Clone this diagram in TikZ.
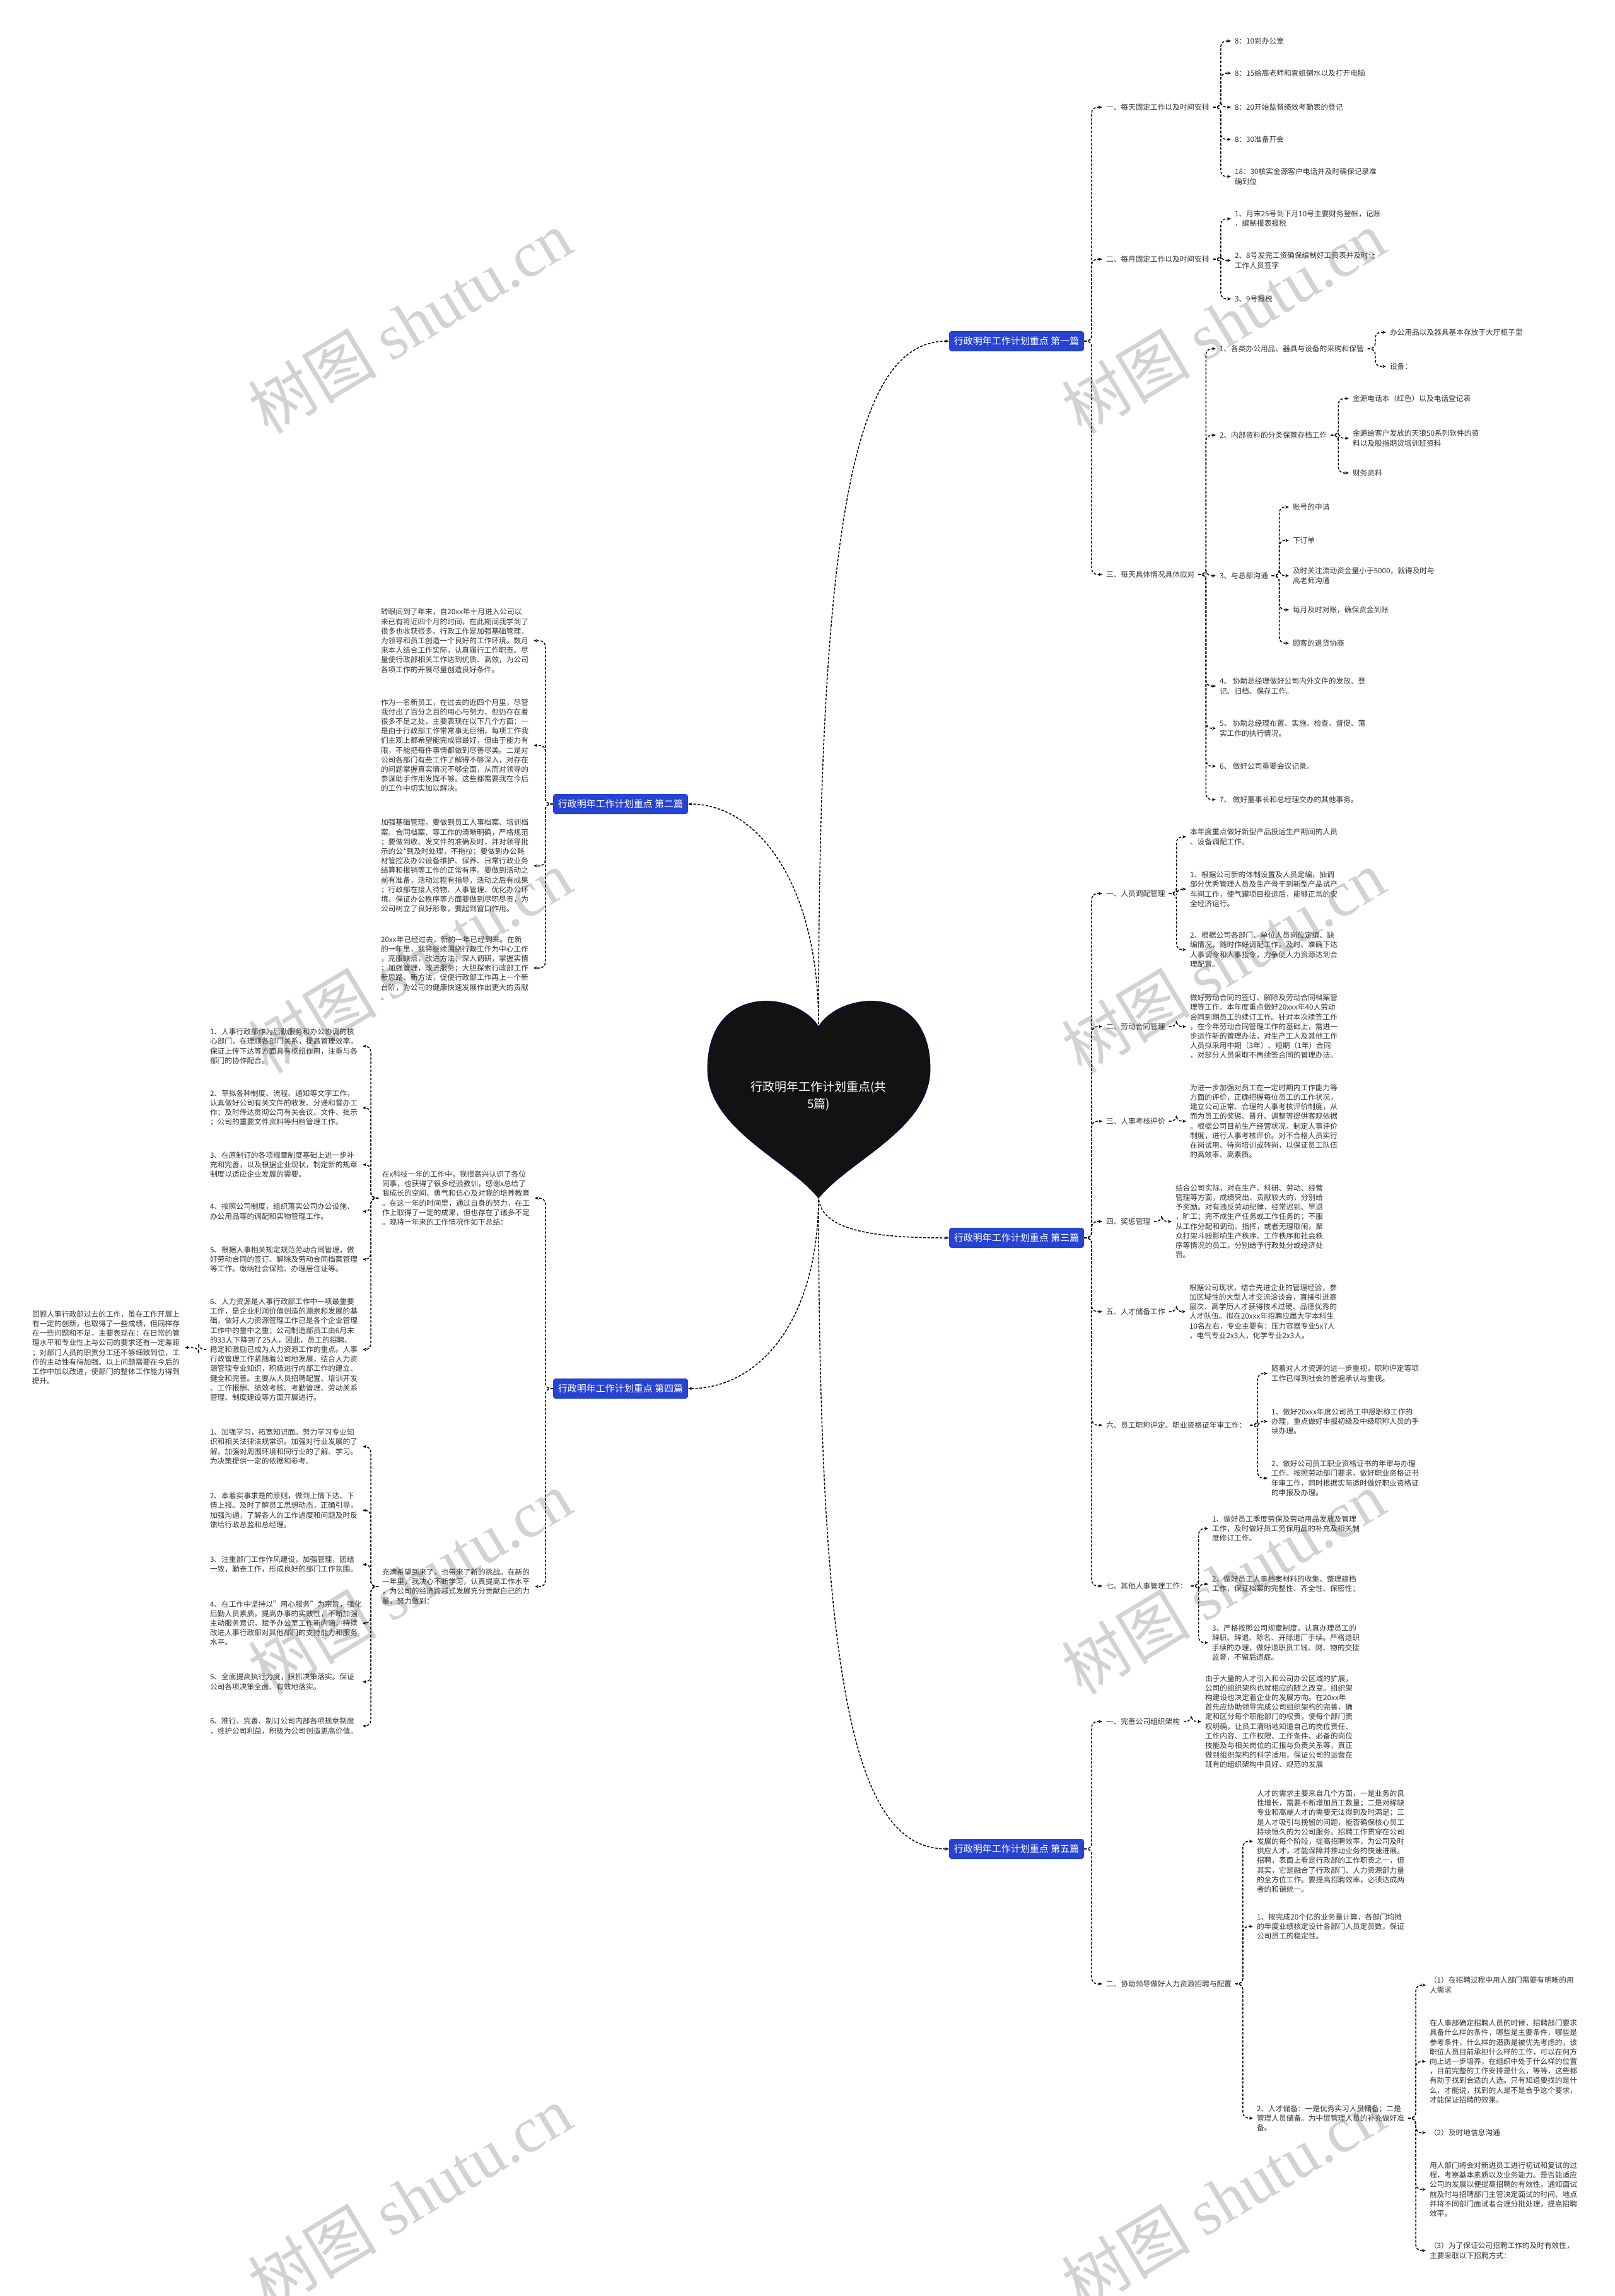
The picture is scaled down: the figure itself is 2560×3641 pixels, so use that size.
\documentclass[tikz,border=0pt]{standalone}
\usepackage{fontspec}
\setmainfont{Noto Sans CJK SC}
\newfontfamily\wmlatin{Liberation Serif}
\usetikzlibrary{arrows.meta,positioning}
\definecolor{topicblue}{HTML}{2743D3}
\definecolor{inkgray}{HTML}{333333}
\definecolor{wmgray}{HTML}{D2D2D2}

\begin{document}
\begin{tikzpicture}[x=1pt, y=-1pt,
    topic/.style={fill=topicblue, rounded corners=4pt, text=white,
        font=\fontsize{15}{18}\selectfont, minimum width=214pt, minimum height=32pt, inner sep=0pt},
    item/.style={anchor=west, align=left, inner sep=0pt, outer xsep=6pt, text=inkgray,
        font=\fontsize{11.7}{15.2}\selectfont},
    para/.style={item, text width=236pt},
    hubtext/.style={align=center, text=white, font=\fontsize{19}{27}\selectfont},
    watermark/.style={rotate=31, text=wmgray, font=\fontsize{102}{102}\selectfont},
    link/.style={line width=1.5pt, dash pattern=on 4pt off 2.5pt, rounded corners=9pt,
        -{Stealth[length=6pt,width=5pt]}}
]
\useasboundingbox (0,0) rectangle (2560,3641);
\fill[white] (0,0) rectangle (2560,3641);

% watermarks
\foreach \wx/\wy [count=\k] in {650/511, 1940/511, 650/1525, 1940/1525, 650/2510, 1940/2510, 650/3485, 1940/3485}
    \node[watermark] (wm\k) at (\wx,\wy) {树图 {\wmlatin shutu.cn}};

% centre heart
\fill[black!93, draw=blue!45!black, line width=0.8pt] (1298,1628)
    .. controls (1262,1570) and (1122,1560) .. (1122,1695)
    .. controls (1122,1790) and (1250,1840) .. (1298,1900)
    .. controls (1346,1840) and (1475,1790) .. (1475,1695)
    .. controls (1475,1560) and (1334,1570) .. (1298,1628) -- cycle;
\node[hubtext] (hub) at (1298,1738) {行政明年工作计划重点(共\\5篇)};
\coordinate (hubtop) at (1298,1624);
\coordinate (hubbot) at (1298,1896);

% topics
\node[topic] (b1) at (1612,541)  {行政明年工作计划重点 第一篇};
\node[topic] (b2) at (984,1275)  {行政明年工作计划重点 第二篇};
\node[topic] (b3) at (1612,1963) {行政明年工作计划重点 第三篇};
\node[topic] (b4) at (984,2202)  {行政明年工作计划重点 第四篇};
\node[topic] (b5) at (1612,2932) {行政明年工作计划重点 第五篇};

\draw[link] (hubtop) .. controls (1298,800) and (1360,541) .. (b1.west);
\draw[link] (hubtop) .. controls (1298,1400) and (1200,1275) .. (b2.east);
\draw[link] (hubbot) .. controls (1298,1950) and (1380,1963) .. (b3.west);
\draw[link] (hubbot) .. controls (1298,2100) and (1200,2202) .. (b4.east);
\draw[link] (hubbot) .. controls (1298,2700) and (1360,2932) .. (b5.west);

% first
\node[item] (a1) at (1748,170) {一、每天固定工作以及时间安排};
\node[item] (a2) at (1748,411) {二、每月固定工作以及时间安排};
\node[item] (a3) at (1748,911) {三、每天具体情况具体应对};
\node[item] (a11) at (1952,65)  {8：10到办公室};
\node[item] (a12) at (1952,116) {8：15给高老师和袁姐倒水以及打开电脑};
\node[item] (a13) at (1952,170) {8：20开始监督绩效考勤表的登记};
\node[item] (a14) at (1952,221) {8：30准备开会};
\node[item] (a15) at (1952,280) {18：30核实金源客户电话并及时确保记录准\\确到位};
\node[item] (a21) at (1952,347) {1、月末25号到下月10号主要财务登帐，记账\\，编制报表报税};
\node[item] (a22) at (1952,413) {2、8号发完工资确保编制好工资表并及时让\\工作人员签字};
\node[item] (a23) at (1952,474) {3、9号报税};
\node[item] (a31) at (1928,553)  {1、各类办公用品、器具与设备的采购和保管};
\node[item] (a32) at (1928,690)  {2、内部资料的分类保管存档工作};
\node[item] (a33) at (1928,913)  {3、与总部沟通};
\node[item] (a34) at (1928,1088) {4、 协助总经理做好公司内外文件的发放、登\\记、归档、保存工作。};
\node[item] (a35) at (1928,1155) {5、 协助总经理布置、实施、检查、督促、落\\实工作的执行情况。};
\node[item] (a36) at (1928,1215) {6、 做好公司重要会议记录。};
\node[item] (a37) at (1928,1268) {7、 做好董事长和总经理交办的其他事务。};
\node[item] (a311) at (2198,527) {办公用品以及器具基本存放于大厅柜子里};
\node[item] (a312) at (2198,581) {设备：};
\node[item] (a321) at (2139,632) {金源电话本（红色）以及电话登记表};
\node[item] (a322) at (2139,695) {金源给客户发放的天狼50系列软件的资\\料以及股指期货培训班资料};
\node[item] (a323) at (2139,750) {财务资料};
\node[item] (a331) at (2044,804)  {账号的申请};
\node[item] (a332) at (2044,857)  {下订单};
\node[item] (a333) at (2044,913)  {及时关注流动资金量小于5000，就得及时与\\高老师沟通};
\node[item] (a334) at (2044,967)  {每月及时对账，确保资金到账};
\node[item] (a335) at (2044,1020) {顾客的退货协商};

% second
\node[para] (p1) at (598,1016) {转眼间到了年末，自20xx年十月进入公司以\\来已有将近四个月的时间，在此期间我学到了\\很多也收获很多。行政工作是加强基础管理，\\为领导和员工创造一个良好的工作环境。数月\\来本人结合工作实际，认真履行工作职责。尽\\量使行政部相关工作达到优质、高效，为公司\\各项工作的开展尽量创造良好条件。};
\node[para] (p2) at (598,1182) {作为一名新员工，在过去的近四个月里，尽管\\我付出了百分之百的用心与努力，但仍存在着\\很多不足之处，主要表现在以下几个方面：一\\是由于行政部工作常常事无巨细，每项工作我\\们主观上都希望能完成得最好，但由于能力有\\限，不能把每件事情都做到尽善尽美。二是对\\公司各部门有些工作了解得不够深入，对存在\\的问题掌握真实情况不够全面，从而对领导的\\参谋助手作用发挥不够。这些都需要我在今后\\的工作中切实加以解决。};
\node[para] (p3) at (598,1373) {加强基础管理，要做到员工人事档案、培训档\\案、合同档案、等工作的清晰明确，严格规范\\；要做到收、发文件的准确及时，并对领导批\\示的公*到及时处理，不拖拉；要做到办公耗\\材管控及办公设备维护、保养、日常行政业务\\结算和报销等工作的正常有序。要做到活动之\\前有准备，活动过程有指导，活动之后有成果\\；行政部在接人待物、人事管理、优化办公环\\境、保证办公秩序等方面要做到尽职尽责，为\\公司树立了良好形象，要起到窗口作用。};
\node[para] (p4) at (598,1535) {20xx年已经过去，新的一年已经到来。在新\\的一年里，我将继续围绕行政工作为中心工作\\，克服缺点，改进方法；深入调研，掌握实情\\；加强管理，改进服务；大胆探索行政部工作\\新思路、新方法，促使行政部工作再上一个新\\台阶，为公司的健康快速发展作出更大的贡献\\。};

% third
\node[item] (c1) at (1748,1417) {一、人员调配管理};
\node[item] (c2) at (1748,1628) {二、劳动合同管理};
\node[item] (c3) at (1748,1778) {三、人事考核评价};
\node[item] (c4) at (1748,1937) {四、奖惩管理};
\node[item] (c5) at (1748,2080) {五、人才储备工作};
\node[item] (c6) at (1748,2260) {六、员工职称评定、职业资格证年审工作：};
\node[item] (c7) at (1748,2515) {七、其他人事管理工作：};
\node[item] (c11) at (1881,1327) {本年度重点做好新型产品投运生产期间的人员\\、设备调配工作。};
\node[item] (c12) at (1881,1410) {1、根据公司新的体制设置及人员定编，抽调\\部分优秀管理人员及生产骨干到新型产品试产\\车间工作，使气罐项目投运后，能够正常的安\\全经济运行。};
\node[item] (c13) at (1881,1506) {2、根据公司各部门、单位人员岗位定编、缺\\编情况，随时作好调配工作。及时、准确下达\\人事调令和人事指令，力争使人力资源达到合\\理配置。};
\node[item] (c21) at (1881,1628) {做好劳动合同的签订、解除及劳动合同档案管\\理等工作。本年度重点做好20xxx年40人劳动\\合同到期员工的续订工作。针对本次续签工作\\，在今年劳动合同管理工作的基础上，需进一\\步运作新的管理办法，对生产工人及其他工作\\人员拟采用中期（3年）、短期（1年）合同\\，对部分人员采取不再续签合同的管理办法。};
\node[item] (c31) at (1881,1778) {为进一步加强对员工在一定时期内工作能力等\\方面的评价，正确把握每位员工的工作状况，\\建立公司正常、合理的人事考核评价制度，从\\而为员工的奖惩、晋升、调整等提供客观依据\\。根据公司目前生产经营状况，制定人事评价\\制度，进行人事考核评价。对不合格人员实行\\在岗试用、待岗培训或转岗，以保证员工队伍\\的高效率、高素质。};
\node[item] (c41) at (1858,1937) {结合公司实际，对在生产、科研、劳动、经营\\管理等方面，成绩突出、贡献较大的，分别给\\予奖励。对有违反劳动纪律，经常迟到、早退\\，旷工；完不成生产任务或工作任务的；不服\\从工作分配和调动、指挥，或者无理取闹，聚\\众打架斗殴影响生产秩序、工作秩序和社会秩\\序等情况的员工，分别给予行政处分或经济处\\罚。};
\node[item] (c51) at (1880,2080) {根据公司现状，结合先进企业的管理经验，参\\加区域性的大型人才交流洽谈会，直接引进高\\层次、高学历人才获得技术过硬、品德优秀的\\人才队伍。拟在20xxx年招聘应届大学本科生\\10名左右，专业主要有：压力容器专业5x7人\\，电气专业2x3人，化学专业2x3人。};
\node[item] (c61) at (2010,2178) {随着对人才资源的进一步重视，职称评定等项\\工作已得到社会的普遍承认与重视。};
\node[item] (c62) at (2010,2254) {1、做好20xxx年度公司员工申报职称工作的\\办理，重点做好申报初级及中级职称人员的手\\续办理。};
\node[item] (c63) at (2010,2344) {2、做好公司员工职业资格证书的年审与办理\\工作。按照劳动部门要求，做好职业资格证书\\年审工作，同时根据实际适时做好职业资格证\\的申报及办理。};
\node[item] (c71) at (1916,2424) {1、做好员工季度劳保及劳动用品发放及管理\\工作，及时做好员工劳保用品的补充及相关制\\度修订工作。};
\node[item] (c72) at (1916,2512) {2、做好员工人事档案材料的收集、整理建档\\工作，保证档案的完整性、齐全性、保密性；};
\node[item] (c73) at (1916,2605) {3、严格按照公司规章制度，认真办理员工的\\辞职、辞退、除名、开除退厂手续。严格退职\\手续的办理，做好退职员工钱、财、物的交接\\监督，不留后遗症。};

% fourth
\node[para] (d1) at (600,1900) {在x科技一年的工作中，我很高兴认识了各位\\同事，也获得了很多经验教训，感谢x总给了\\我成长的空间、勇气和信心及对我的培养教育\\。在这一年的时间里，通过自身的努力，在工\\作上取得了一定的成果，但也存在了诸多不足\\。现将一年来的工作情况作如下总结：};
\node[para] (d2) at (600,2516) {充满希望到来了，也带来了新的挑战。在新的\\一年里，我决心不断学习，认真提高工作水平\\，为公司的经济跨越式发展充分贡献自己的力\\量，努力做到：};
\node[para] (d11) at (327,1659) {1、人事行政部作为后勤服务和办公协调的核\\心部门，在理顺各部门关系，提高管理效率，\\保证上传下达等方面具有枢纽作用，注重与各\\部门的协作配合。};
\node[para] (d12) at (327,1757) {2、草拟各种制度、流程、通知等文字工作，\\认真做好公司有关文件的收发、分递和督办工\\作；及时传达贯彻公司有关会议、文件、批示\\；公司的重要文件资料等归档管理工作。};
\node[para] (d13) at (327,1847) {3、在原制订的各项规章制度基础上进一步补\\充和完善，以及根据企业现状，制定新的规章\\制度以适应企业发展的需要。};
\node[para] (d14) at (327,1921) {4、按照公司制度，组织落实公司办公设施、\\办公用品等的调配和实物管理工作。};
\node[para] (d15) at (327,1997) {5、根据人事相关规定规范劳动合同管理，做\\好劳动合同的签订、解除及劳动合同档案管理\\等工作。缴纳社会保险、办理居住证等。};
\node[para] (d16) at (327,2140) {6、人力资源是人事行政部工作中一项最重要\\工作，是企业利润价值创造的源泉和发展的基\\础，做好人力资源管理工作已是各个企业管理\\工作中的重中之重；公司制造部员工由6月末\\的33人下降到了25人，因此，员工的招聘、\\稳定和激励已成为人力资源工作的重点。人事\\行政管理工作紧随着公司地发展，结合人力资\\源管理专业知识，积极进行内部工作的建立、\\健全和完善。主要从人员招聘配置、培训开发\\、工作报酬、绩效考核、考勤管理、劳动关系\\管理、制度建设等方面开展进行。};
\node[para] (d161) at (45,2137) {回顾人事行政部过去的工作，虽在工作开展上\\有一定的创新，也取得了一些成绩，但同样存\\在一些问题和不足，主要表现在：在日常的管\\理水平和专业性上与公司的要求还有一定差距\\；对部门人员的职责分工还不够细致到位，工\\作的主动性有待加强。以上问题需要在今后的\\工作中加以改进，使部门的整体工作能力得到\\提升。};
\node[para] (d21) at (327,2294) {1、加强学习，拓宽知识面。努力学习专业知\\识和相关法律法规常识。加强对行业发展的了\\解，加强对周围环境和同行业的了解、学习。\\为决策提供一定的依据和参考。};
\node[para] (d22) at (327,2395) {2、本着实事求是的原则，做到上情下达、下\\情上报。及时了解员工思想动态，正确引导，\\加强沟通，了解各人的工作进度和问题及时反\\馈给行政总监和总经理。};
\node[para] (d23) at (327,2481) {3、注重部门工作作风建设，加强管理，团结\\一致，勤奋工作，形成良好的部门工作氛围。};
\node[para] (d24) at (327,2574) {4、在工作中坚持以"用心服务"为宗旨，强化\\后勤人员素质，提高办事的实效性，不断加强\\主动服务意识，赋予办公室工作新内涵，持续\\改进人事行政部对其他部门的支持能力和服务\\水平。};
\node[para] (d25) at (327,2667) {5、全面提高执行力度，狠抓决策落实。保证\\公司各项决策全面、有效地落实。};
\node[para] (d26) at (327,2737) {6、推行、完善、制订公司内部各项规章制度\\，维护公司利益，积极为公司创造更高价值。};

% fifth
\node[item] (e1) at (1748,2730) {一、完善公司组织架构};
\node[item] (e2) at (1748,3146) {二、协助领导做好人力资源招聘与配置};
\node[item] (e11) at (1905,2730) {由于大量的人才引入和公司办公区域的扩展，\\公司的组织架构也就相应的随之改变。组织架\\构建设也决定着企业的发展方向。在20xx年\\首先应协助领导完成公司组织架构的完善，确\\定和区分每个职能部门的权责，使每个部门责\\权明确，让员工清晰地知道自己的岗位责任、\\工作内容、工作权限、工作条件、必备的岗位\\技能及与相关岗位的汇报与负责关系等，真正\\做到组织架构的科学适用，保证公司的运营在\\既有的组织架构中良好、规范的发展};
\node[item] (e21) at (1987,2920) {人才的需求主要来自几个方面，一是业务的良\\性增长，需要不断增加员工数量；二是对稀缺\\专业和高端人才的需要无法得到及时满足；三\\是人才吸引与挽留的问题，能否确保核心员工\\持续恒久的为公司服务。招聘工作贯穿在公司\\发展的每个阶段，提高招聘效率，为公司及时\\供应人才，才能保障并推动业务的快速进展。\\招聘，表面上看是行政部的工作职责之一，但\\其实，它是融合了行政部门、人力资源部力量\\的全方位工作。要提高招聘效率，必须达成两\\者的和谐统一。};
\node[item] (e22) at (1987,3055) {1、按完成20个亿的业务量计算，各部门均摊\\的年度业绩核定设计各部门人员定员数，保证\\公司员工的稳定性。};
\node[item] (e23) at (1987,3359) {2、人才储备：一是优秀实习人员储备；二是\\管理人员储备。为中层管理人员的补充做好准\\备。};
\node[item] (f1) at (2261,3148) {（1）在招聘过程中用人部门需要有明晰的用\\人需求};
\node[item] (f2) at (2261,3269) {在人事部确定招聘人员的时候，招聘部门要求\\具备什么样的条件，哪些是主要条件，哪些是\\参考条件，什么样的潜质是被优先考虑的，该\\职位人员目前承担什么样的工作，可以在何方\\向上进一步培养，在组织中处于什么样的位置\\，目前完整的工作安排是什么，等等，这些都\\有助于找到合适的人选。只有知道要找的是什\\么，才能说，找到的人是不是合乎这个要求，\\才能保证招聘的效果。};
\node[item] (f3) at (2261,3382) {（2）及时地信息沟通};
\node[item] (f4) at (2261,3472) {用人部门将会对新进员工进行初试和复试的过\\程，考察基本素质以及业务能力。是否能适应\\公司的发展以便提高招聘的有效性。通知面试\\前及时与招聘部门主管决定面试的时间、地点\\并将不同部门面试者合理分批处理，提高招聘\\效率。};
\node[item] (f5) at (2261,3569) {（3）为了保证公司招聘工作的及时有效性，\\主要采取以下招聘方式：};

% connectors to the right
\foreach \p/\c in {b1/a1, b1/a2, b1/a3, a1/a11, a1/a12, a1/a13, a1/a14, a1/a15,
        a2/a21, a2/a22, a2/a23, a3/a31, a3/a32, a3/a33, a3/a34, a3/a35, a3/a36, a3/a37,
        a31/a311, a31/a312, a32/a321, a32/a322, a32/a323,
        a33/a331, a33/a332, a33/a333, a33/a334, a33/a335,
        b3/c1, b3/c2, b3/c3, b3/c4, b3/c5, b3/c6, b3/c7,
        c1/c11, c1/c12, c1/c13, c2/c21, c3/c31, c4/c41, c5/c51,
        c6/c61, c6/c62, c6/c63, c7/c71, c7/c72, c7/c73,
        b5/e1, b5/e2, e1/e11, e2/e21, e2/e22, e2/e23,
        e23/f1, e23/f2, e23/f3, e23/f4, e23/f5}
    \draw[link] (\p.east) -- ++(12,0) |- (\c.west);

% connectors to the left
\foreach \p/\c in {b2/p1, b2/p2, b2/p3, b2/p4, b4/d1, b4/d2,
        d1/d11, d1/d12, d1/d13, d1/d14, d1/d15, d1/d16, d16/d161,
        d2/d21, d2/d22, d2/d23, d2/d24, d2/d25, d2/d26}
    \draw[link] (\p.west) -- ++(-12,0) |- (\c.east);
\end{tikzpicture}
\end{document}
